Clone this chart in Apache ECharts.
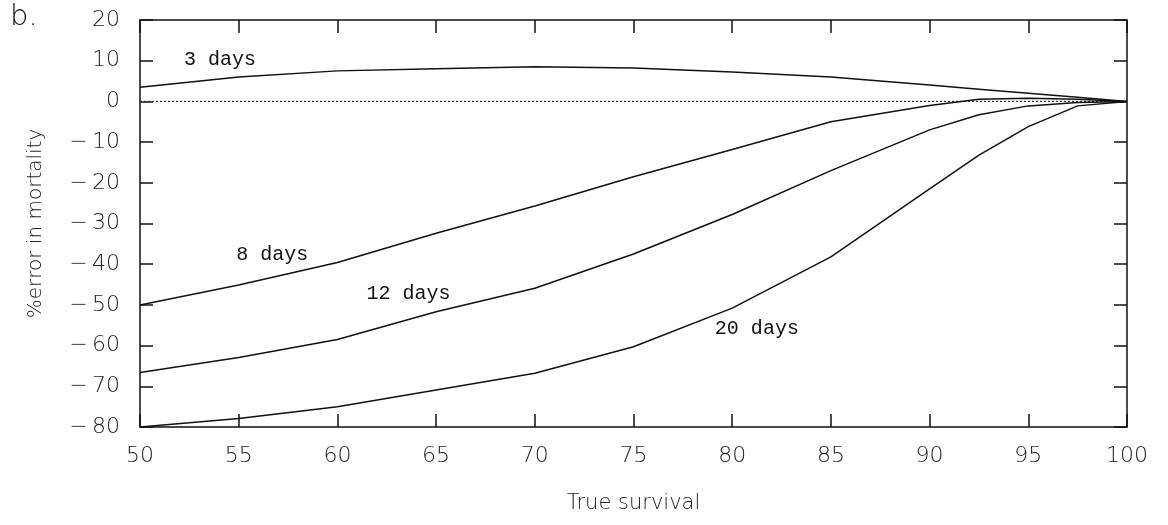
<!DOCTYPE html>
<html><head><meta charset="utf-8">
<script src="https://cdn.jsdelivr.net/npm/echarts@6/dist/echarts.min.js"></script>
<style>html,body{margin:0;padding:0;background:#fff}#c{width:1168px;height:525px}</style>
</head><body><div id="c"></div>
<script>
const survival = [50, 55, 60, 65, 70, 75, 80, 85, 90, 92.5, 95, 97.5, 100];
const days3  = [3.5, 6.0, 7.5, 8.0, 8.5, 8.2, 7.2, 6.0, 4.0, 3.0, 2.0, 1.0, 0];
const days8  = [-50, -45.1, -39.6, -32.4, -25.7, -18.5, -11.8, -5.0, -1.0, 0.5, 0.8, 0.5, 0];
const days12 = [-66.6, -62.9, -58.5, -51.7, -45.9, -37.5, -27.8, -17.0, -7.0, -3.3, -1.1, -0.3, 0];
const days20 = [-80, -77.9, -75, -70.9, -66.8, -60.3, -50.8, -38.2, -21.5, -13.2, -6.2, -1.1, 0];
const seriesNames = ['3 days', '8 days', '12 days', '20 days'];
const labelAt = [[54.05, 10.2], [56.7, -37.7], [63.6, -47.3], [81.25, -55.9]];
const zeroLine = [[50, 0], [100, 0]];

const chart = echarts.init(document.getElementById('c'));
const sansFont = '"DejaVu Sans", sans-serif';
const monoFont = '"Liberation Mono", "DejaVu Sans Mono", monospace';
const lineCol = '#111';
const textCol = '#222';
function mk(vals, i) {
  return {
    type: 'line', name: seriesNames[i],
    data: survival.map((x, k) => [x, vals[k]]),
    showSymbol: false, symbol: 'none',
    lineStyle: { color: lineCol, width: 1.5 },
    z: 5,
    markPoint: {
      symbol: 'circle', symbolSize: 0,
      label: { show: true, formatter: seriesNames[i], color: '#111', fontFamily: monoFont, fontSize: 20, position: 'inside' },
      data: [{ coord: labelAt[i] }]
    }
  };
}
const axisLine = { show: true, onZero: false, lineStyle: { color: lineCol, width: 1.5 } };
const tick = { show: true, inside: true, length: 13, lineStyle: { color: lineCol, width: 1.5 } };
const fmtY = v => (v < 0 ? '\u2212\u2009' + Math.abs(v) : String(v));
const lbl = { color: textCol, fontFamily: sansFont, fontWeight: 200, fontSize: 22 };
chart.setOption({
  animation: false,
  grid: { left: 140, right: 41, top: 20, bottom: 98 },
  xAxis: [
    { type: 'value', min: 50, max: 100, interval: 5, position: 'bottom',
      axisLine, axisTick: tick, splitLine: { show: false },
      name: 'True survival', nameLocation: 'middle', nameGap: 66,
      nameTextStyle: { color: textCol, fontFamily: sansFont, fontWeight: 200, fontSize: 21 },
      axisLabel: Object.assign({ margin: 18 }, lbl) },
    { type: 'value', min: 50, max: 100, interval: 5, position: 'top',
      axisLine, axisTick: tick, splitLine: { show: false }, axisLabel: { show: false } }
  ],
  yAxis: [
    { type: 'value', min: -80, max: 20, interval: 10, position: 'left',
      axisLine, axisTick: tick, splitLine: { show: false },
      name: '%error in mortality', nameLocation: 'middle', nameGap: 94,
      nameTextStyle: { color: textCol, fontFamily: sansFont, fontWeight: 200, fontSize: 20 },
      axisLabel: Object.assign({ margin: 20, formatter: fmtY }, lbl) },
    { type: 'value', min: -80, max: 20, interval: 10, position: 'right',
      axisLine, axisTick: tick, splitLine: { show: false }, axisLabel: { show: false } }
  ],
  graphic: [
    { type: 'text', left: 10, top: 3, style: { text: 'b.', fill: '#111', font: '200 29px ' + sansFont } }
  ],
  series: [
    { type: 'line', data: zeroLine, symbol: 'none', z: 3,
      lineStyle: { color: '#333', width: 1.2, type: [2, 2] } },
    mk(days3, 0), mk(days8, 1), mk(days12, 2), mk(days20, 3)
  ]
});
</script></body></html>
